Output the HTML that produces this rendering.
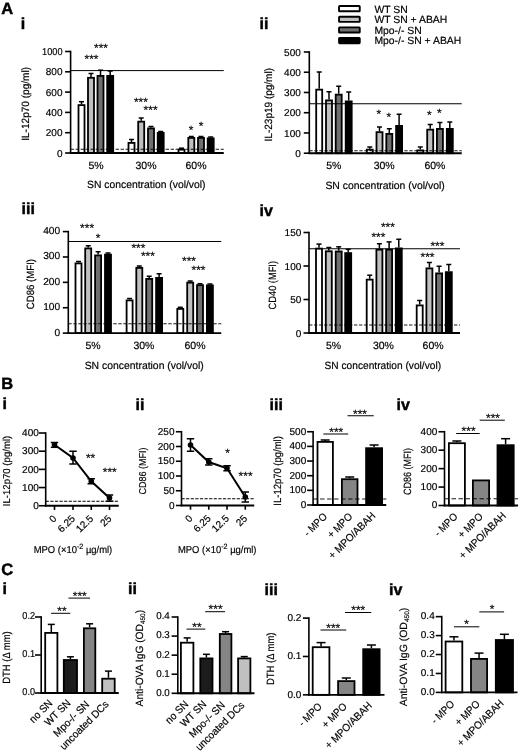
<!DOCTYPE html>
<html><head><meta charset="utf-8"><title>Figure</title>
<style>
html,body{margin:0;padding:0;background:#fff;}
body{width:520px;height:752px;overflow:hidden;font-family:"Liberation Sans",sans-serif;}
svg{display:block;filter:grayscale(1) blur(0.35px);}
svg text{font-family:"Liberation Sans",sans-serif;fill:#000;stroke:#000;stroke-width:0.18px;text-rendering:geometricPrecision;}
</style></head><body>
<svg width="520" height="752" viewBox="0 0 520 752">
<rect x="0" y="0" width="520" height="752" fill="#fff"/>
<text x="1.20" y="13.50" font-size="16.5" text-anchor="start" font-weight="bold" style="stroke-width:0.45px">A</text>
<text x="20.80" y="29.00" font-size="16" text-anchor="start" font-weight="bold" style="stroke-width:0.45px">i</text>
<text x="259.50" y="29.00" font-size="16" text-anchor="start" font-weight="bold" style="stroke-width:0.45px">ii</text>
<text x="21.50" y="214.00" font-size="16" text-anchor="start" font-weight="bold" style="stroke-width:0.45px">iii</text>
<text x="259.50" y="216.00" font-size="16" text-anchor="start" font-weight="bold" style="stroke-width:0.45px">iv</text>
<text x="1.20" y="388.80" font-size="16.5" text-anchor="start" font-weight="bold" style="stroke-width:0.45px">B</text>
<text x="2.50" y="409.00" font-size="16" text-anchor="start" font-weight="bold" style="stroke-width:0.45px">i</text>
<text x="135.50" y="409.50" font-size="16" text-anchor="start" font-weight="bold" style="stroke-width:0.45px">ii</text>
<text x="269.50" y="409.50" font-size="16" text-anchor="start" font-weight="bold" style="stroke-width:0.45px">iii</text>
<text x="396.50" y="409.50" font-size="16" text-anchor="start" font-weight="bold" style="stroke-width:0.45px">iv</text>
<text x="1.20" y="574.70" font-size="16.5" text-anchor="start" font-weight="bold" style="stroke-width:0.45px">C</text>
<text x="2.40" y="594.00" font-size="16" text-anchor="start" font-weight="bold" style="stroke-width:0.45px">i</text>
<text x="128.00" y="594.00" font-size="16" text-anchor="start" font-weight="bold" style="stroke-width:0.45px">ii</text>
<text x="264.50" y="595.00" font-size="16" text-anchor="start" font-weight="bold" style="stroke-width:0.45px">iii</text>
<text x="389.00" y="595.00" font-size="16" text-anchor="start" font-weight="bold" style="stroke-width:0.45px">iv</text>
<rect x="339.05" y="6.05" width="20.70" height="5.20" rx="0.6" fill="#ffffff" stroke="#000" stroke-width="1.9"/>
<text x="374.40" y="12.50" font-size="10.4" text-anchor="start" font-weight="normal" >WT SN</text>
<rect x="339.05" y="16.70" width="20.70" height="5.20" rx="0.6" fill="#c0c0c0" stroke="#000" stroke-width="1.9"/>
<text x="374.40" y="23.15" font-size="10.4" text-anchor="start" font-weight="normal" >WT SN + ABAH</text>
<rect x="339.05" y="27.35" width="20.70" height="5.20" rx="0.6" fill="#707070" stroke="#000" stroke-width="1.9"/>
<text x="374.40" y="33.80" font-size="10.4" text-anchor="start" font-weight="normal" >Mpo-/- SN</text>
<rect x="339.05" y="38.00" width="20.70" height="5.20" rx="0.6" fill="#000000" stroke="#000" stroke-width="1.9"/>
<text x="374.40" y="44.45" font-size="10.4" text-anchor="start" font-weight="normal" >Mpo-/- SN + ABAH</text>
<line x1="81.50" y1="104.20" x2="81.50" y2="101.70" stroke="#000" stroke-width="1.5"/>
<line x1="79.00" y1="101.70" x2="84.00" y2="101.70" stroke="#000" stroke-width="1.5"/>
<rect x="78.50" y="105.10" width="6.00" height="47.90" fill="#ffffff" stroke="#000" stroke-width="1.8"/>
<line x1="91.00" y1="76.90" x2="91.00" y2="73.50" stroke="#000" stroke-width="1.5"/>
<line x1="88.50" y1="73.50" x2="93.50" y2="73.50" stroke="#000" stroke-width="1.5"/>
<rect x="88.00" y="77.80" width="6.00" height="75.20" fill="#c0c0c0" stroke="#000" stroke-width="1.8"/>
<line x1="100.50" y1="75.00" x2="100.50" y2="70.20" stroke="#000" stroke-width="1.5"/>
<line x1="98.00" y1="70.20" x2="103.00" y2="70.20" stroke="#000" stroke-width="1.5"/>
<rect x="97.50" y="75.90" width="6.00" height="77.10" fill="#707070" stroke="#000" stroke-width="1.8"/>
<line x1="110.20" y1="75.00" x2="110.20" y2="71.00" stroke="#000" stroke-width="1.5"/>
<line x1="107.70" y1="71.00" x2="112.70" y2="71.00" stroke="#000" stroke-width="1.5"/>
<rect x="107.20" y="75.90" width="6.00" height="77.10" fill="#000000" stroke="#000" stroke-width="1.8"/>
<line x1="131.50" y1="142.00" x2="131.50" y2="139.50" stroke="#000" stroke-width="1.5"/>
<line x1="129.00" y1="139.50" x2="134.00" y2="139.50" stroke="#000" stroke-width="1.5"/>
<rect x="128.50" y="142.90" width="6.00" height="10.10" fill="#ffffff" stroke="#000" stroke-width="1.8"/>
<line x1="141.20" y1="120.75" x2="141.20" y2="118.00" stroke="#000" stroke-width="1.5"/>
<line x1="138.70" y1="118.00" x2="143.70" y2="118.00" stroke="#000" stroke-width="1.5"/>
<rect x="138.20" y="121.65" width="6.00" height="31.35" fill="#c0c0c0" stroke="#000" stroke-width="1.8"/>
<line x1="151.00" y1="127.50" x2="151.00" y2="126.50" stroke="#000" stroke-width="1.5"/>
<line x1="148.50" y1="126.50" x2="153.50" y2="126.50" stroke="#000" stroke-width="1.5"/>
<rect x="148.00" y="128.40" width="6.00" height="24.60" fill="#707070" stroke="#000" stroke-width="1.8"/>
<line x1="160.70" y1="132.00" x2="160.70" y2="131.50" stroke="#000" stroke-width="1.5"/>
<line x1="158.20" y1="131.50" x2="163.20" y2="131.50" stroke="#000" stroke-width="1.5"/>
<rect x="157.70" y="132.90" width="6.00" height="20.10" fill="#000000" stroke="#000" stroke-width="1.8"/>
<line x1="181.50" y1="148.75" x2="181.50" y2="148.20" stroke="#000" stroke-width="1.5"/>
<line x1="179.00" y1="148.20" x2="184.00" y2="148.20" stroke="#000" stroke-width="1.5"/>
<rect x="178.50" y="149.65" width="6.00" height="3.35" fill="#ffffff" stroke="#000" stroke-width="1.8"/>
<line x1="191.30" y1="137.00" x2="191.30" y2="136.50" stroke="#000" stroke-width="1.5"/>
<line x1="188.80" y1="136.50" x2="193.80" y2="136.50" stroke="#000" stroke-width="1.5"/>
<rect x="188.30" y="137.90" width="6.00" height="15.10" fill="#c0c0c0" stroke="#000" stroke-width="1.8"/>
<line x1="201.00" y1="137.00" x2="201.00" y2="136.50" stroke="#000" stroke-width="1.5"/>
<line x1="198.50" y1="136.50" x2="203.50" y2="136.50" stroke="#000" stroke-width="1.5"/>
<rect x="198.00" y="137.90" width="6.00" height="15.10" fill="#707070" stroke="#000" stroke-width="1.8"/>
<line x1="210.70" y1="137.50" x2="210.70" y2="137.00" stroke="#000" stroke-width="1.5"/>
<line x1="208.20" y1="137.00" x2="213.20" y2="137.00" stroke="#000" stroke-width="1.5"/>
<rect x="207.70" y="138.40" width="6.00" height="14.60" fill="#000000" stroke="#000" stroke-width="1.8"/>
<line x1="70.60" y1="70.60" x2="223.75" y2="70.60" stroke="#000" stroke-width="1.0"/>
<line x1="70.60" y1="149.25" x2="223.75" y2="149.25" stroke="#000" stroke-width="0.9" stroke-dasharray="3.4 1.6"/>
<line x1="70.60" y1="50.70" x2="70.60" y2="153.80" stroke="#000" stroke-width="1.6"/>
<line x1="65.10" y1="153.00" x2="70.60" y2="153.00" stroke="#000" stroke-width="1.6"/>
<text x="62.50" y="156.58" font-size="10" text-anchor="end" font-weight="normal" >0</text>
<line x1="65.10" y1="132.70" x2="70.60" y2="132.70" stroke="#000" stroke-width="1.6"/>
<text x="62.50" y="136.28" font-size="10" text-anchor="end" font-weight="normal" >200</text>
<line x1="65.10" y1="112.40" x2="70.60" y2="112.40" stroke="#000" stroke-width="1.6"/>
<text x="62.50" y="115.98" font-size="10" text-anchor="end" font-weight="normal" >400</text>
<line x1="65.10" y1="92.10" x2="70.60" y2="92.10" stroke="#000" stroke-width="1.6"/>
<text x="62.50" y="95.68" font-size="10" text-anchor="end" font-weight="normal" >600</text>
<line x1="65.10" y1="71.80" x2="70.60" y2="71.80" stroke="#000" stroke-width="1.6"/>
<text x="62.50" y="75.38" font-size="10" text-anchor="end" font-weight="normal" >800</text>
<line x1="65.10" y1="51.50" x2="70.60" y2="51.50" stroke="#000" stroke-width="1.6"/>
<text x="62.50" y="55.08" font-size="10" text-anchor="end" font-weight="normal" textLength="20.40" lengthAdjust="spacingAndGlyphs" >1000</text>
<line x1="69.80" y1="153.00" x2="223.75" y2="153.00" stroke="#000" stroke-width="1.9"/>
<text x="96.00" y="168.70" font-size="10.5" text-anchor="middle" font-weight="normal" >5%</text>
<text x="146.00" y="168.70" font-size="10.5" text-anchor="middle" font-weight="normal" >30%</text>
<text x="196.00" y="168.70" font-size="10.5" text-anchor="middle" font-weight="normal" >60%</text>
<text x="146.30" y="188.40" font-size="10.5" text-anchor="middle" font-weight="normal" textLength="118.50" lengthAdjust="spacingAndGlyphs" >SN concentration (vol/vol)</text>
<text x="0" y="0" transform="translate(29.00,103.90) rotate(-90)" font-size="10.5" text-anchor="middle" font-weight="normal" textLength="73.80" lengthAdjust="spacingAndGlyphs" >IL-12p70 (pg/ml)</text>
<text x="91.50" y="63.00" font-size="12" text-anchor="middle" font-weight="normal" >***</text>
<text x="101.00" y="51.50" font-size="12" text-anchor="middle" font-weight="normal" >***</text>
<text x="140.90" y="105.75" font-size="12" text-anchor="middle" font-weight="normal" >***</text>
<text x="150.60" y="114.25" font-size="12" text-anchor="middle" font-weight="normal" >***</text>
<text x="191.20" y="133.50" font-size="12" text-anchor="middle" font-weight="normal" >*</text>
<text x="201.10" y="129.75" font-size="12" text-anchor="middle" font-weight="normal" >*</text>
<line x1="319.20" y1="88.75" x2="319.20" y2="72.00" stroke="#000" stroke-width="1.5"/>
<line x1="316.70" y1="72.00" x2="321.70" y2="72.00" stroke="#000" stroke-width="1.5"/>
<rect x="316.20" y="89.65" width="6.00" height="63.55" fill="#ffffff" stroke="#000" stroke-width="1.8"/>
<line x1="329.00" y1="99.50" x2="329.00" y2="91.75" stroke="#000" stroke-width="1.5"/>
<line x1="326.50" y1="91.75" x2="331.50" y2="91.75" stroke="#000" stroke-width="1.5"/>
<rect x="326.00" y="100.40" width="6.00" height="52.80" fill="#c0c0c0" stroke="#000" stroke-width="1.8"/>
<line x1="338.70" y1="93.75" x2="338.70" y2="86.25" stroke="#000" stroke-width="1.5"/>
<line x1="336.20" y1="86.25" x2="341.20" y2="86.25" stroke="#000" stroke-width="1.5"/>
<rect x="335.70" y="94.65" width="6.00" height="58.55" fill="#707070" stroke="#000" stroke-width="1.8"/>
<line x1="348.70" y1="100.50" x2="348.70" y2="92.00" stroke="#000" stroke-width="1.5"/>
<line x1="346.20" y1="92.00" x2="351.20" y2="92.00" stroke="#000" stroke-width="1.5"/>
<rect x="345.70" y="101.40" width="6.00" height="51.80" fill="#000000" stroke="#000" stroke-width="1.8"/>
<line x1="369.80" y1="148.75" x2="369.80" y2="147.00" stroke="#000" stroke-width="1.5"/>
<line x1="367.30" y1="147.00" x2="372.30" y2="147.00" stroke="#000" stroke-width="1.5"/>
<rect x="366.80" y="149.65" width="6.00" height="3.55" fill="#ffffff" stroke="#000" stroke-width="1.8"/>
<line x1="379.50" y1="131.25" x2="379.50" y2="127.00" stroke="#000" stroke-width="1.5"/>
<line x1="377.00" y1="127.00" x2="382.00" y2="127.00" stroke="#000" stroke-width="1.5"/>
<rect x="376.50" y="132.15" width="6.00" height="21.05" fill="#c0c0c0" stroke="#000" stroke-width="1.8"/>
<line x1="389.30" y1="133.00" x2="389.30" y2="128.75" stroke="#000" stroke-width="1.5"/>
<line x1="386.80" y1="128.75" x2="391.80" y2="128.75" stroke="#000" stroke-width="1.5"/>
<rect x="386.30" y="133.90" width="6.00" height="19.30" fill="#707070" stroke="#000" stroke-width="1.8"/>
<line x1="399.10" y1="125.00" x2="399.10" y2="114.25" stroke="#000" stroke-width="1.5"/>
<line x1="396.60" y1="114.25" x2="401.60" y2="114.25" stroke="#000" stroke-width="1.5"/>
<rect x="396.10" y="125.90" width="6.00" height="27.30" fill="#000000" stroke="#000" stroke-width="1.8"/>
<line x1="420.30" y1="149.50" x2="420.30" y2="147.00" stroke="#000" stroke-width="1.5"/>
<line x1="417.80" y1="147.00" x2="422.80" y2="147.00" stroke="#000" stroke-width="1.5"/>
<rect x="417.30" y="150.40" width="6.00" height="2.80" fill="#ffffff" stroke="#000" stroke-width="1.8"/>
<line x1="430.20" y1="128.75" x2="430.20" y2="124.50" stroke="#000" stroke-width="1.5"/>
<line x1="427.70" y1="124.50" x2="432.70" y2="124.50" stroke="#000" stroke-width="1.5"/>
<rect x="427.20" y="129.65" width="6.00" height="23.55" fill="#c0c0c0" stroke="#000" stroke-width="1.8"/>
<line x1="439.90" y1="128.00" x2="439.90" y2="122.50" stroke="#000" stroke-width="1.5"/>
<line x1="437.40" y1="122.50" x2="442.40" y2="122.50" stroke="#000" stroke-width="1.5"/>
<rect x="436.90" y="128.90" width="6.00" height="24.30" fill="#707070" stroke="#000" stroke-width="1.8"/>
<line x1="449.80" y1="128.00" x2="449.80" y2="122.00" stroke="#000" stroke-width="1.5"/>
<line x1="447.30" y1="122.00" x2="452.30" y2="122.00" stroke="#000" stroke-width="1.5"/>
<rect x="446.80" y="128.90" width="6.00" height="24.30" fill="#000000" stroke="#000" stroke-width="1.8"/>
<line x1="309.30" y1="103.75" x2="461.75" y2="103.75" stroke="#000" stroke-width="1.0"/>
<line x1="309.30" y1="150.75" x2="461.75" y2="150.75" stroke="#000" stroke-width="0.9" stroke-dasharray="3.4 1.6"/>
<line x1="309.30" y1="51.20" x2="309.30" y2="154.00" stroke="#000" stroke-width="1.6"/>
<line x1="303.80" y1="153.20" x2="309.30" y2="153.20" stroke="#000" stroke-width="1.6"/>
<text x="300.80" y="156.78" font-size="10" text-anchor="end" font-weight="normal" >0</text>
<line x1="303.80" y1="132.96" x2="309.30" y2="132.96" stroke="#000" stroke-width="1.6"/>
<text x="300.80" y="136.54" font-size="10" text-anchor="end" font-weight="normal" >100</text>
<line x1="303.80" y1="112.72" x2="309.30" y2="112.72" stroke="#000" stroke-width="1.6"/>
<text x="300.80" y="116.30" font-size="10" text-anchor="end" font-weight="normal" >200</text>
<line x1="303.80" y1="92.48" x2="309.30" y2="92.48" stroke="#000" stroke-width="1.6"/>
<text x="300.80" y="96.06" font-size="10" text-anchor="end" font-weight="normal" >300</text>
<line x1="303.80" y1="72.24" x2="309.30" y2="72.24" stroke="#000" stroke-width="1.6"/>
<text x="300.80" y="75.82" font-size="10" text-anchor="end" font-weight="normal" >400</text>
<line x1="303.80" y1="52.00" x2="309.30" y2="52.00" stroke="#000" stroke-width="1.6"/>
<text x="300.80" y="55.58" font-size="10" text-anchor="end" font-weight="normal" >500</text>
<line x1="308.50" y1="153.20" x2="461.75" y2="153.20" stroke="#000" stroke-width="1.9"/>
<text x="333.80" y="168.70" font-size="10.5" text-anchor="middle" font-weight="normal" >5%</text>
<text x="384.20" y="168.70" font-size="10.5" text-anchor="middle" font-weight="normal" >30%</text>
<text x="434.90" y="168.70" font-size="10.5" text-anchor="middle" font-weight="normal" >60%</text>
<text x="385.10" y="188.90" font-size="10.5" text-anchor="middle" font-weight="normal" textLength="119.40" lengthAdjust="spacingAndGlyphs" >SN concentration (vol/vol)</text>
<text x="0" y="0" transform="translate(272.00,104.70) rotate(-90)" font-size="10.5" text-anchor="middle" font-weight="normal" textLength="73.40" lengthAdjust="spacingAndGlyphs" >IL-23p19 (pg/ml)</text>
<text x="378.75" y="117.75" font-size="12" text-anchor="middle" font-weight="normal" >*</text>
<text x="388.75" y="121.00" font-size="12" text-anchor="middle" font-weight="normal" >*</text>
<text x="429.25" y="119.00" font-size="12" text-anchor="middle" font-weight="normal" >*</text>
<text x="439.25" y="116.50" font-size="12" text-anchor="middle" font-weight="normal" >*</text>
<line x1="78.50" y1="262.50" x2="78.50" y2="261.50" stroke="#000" stroke-width="1.5"/>
<line x1="76.00" y1="261.50" x2="81.00" y2="261.50" stroke="#000" stroke-width="1.5"/>
<rect x="75.50" y="263.40" width="6.00" height="69.70" fill="#ffffff" stroke="#000" stroke-width="1.8"/>
<line x1="88.20" y1="247.50" x2="88.20" y2="245.75" stroke="#000" stroke-width="1.5"/>
<line x1="85.70" y1="245.75" x2="90.70" y2="245.75" stroke="#000" stroke-width="1.5"/>
<rect x="85.20" y="248.40" width="6.00" height="84.70" fill="#c0c0c0" stroke="#000" stroke-width="1.8"/>
<line x1="98.10" y1="254.50" x2="98.10" y2="251.75" stroke="#000" stroke-width="1.5"/>
<line x1="95.60" y1="251.75" x2="100.60" y2="251.75" stroke="#000" stroke-width="1.5"/>
<rect x="95.10" y="255.40" width="6.00" height="77.70" fill="#707070" stroke="#000" stroke-width="1.8"/>
<line x1="108.00" y1="253.75" x2="108.00" y2="253.00" stroke="#000" stroke-width="1.5"/>
<line x1="105.50" y1="253.00" x2="110.50" y2="253.00" stroke="#000" stroke-width="1.5"/>
<rect x="105.00" y="254.65" width="6.00" height="78.45" fill="#000000" stroke="#000" stroke-width="1.8"/>
<line x1="129.60" y1="299.50" x2="129.60" y2="298.50" stroke="#000" stroke-width="1.5"/>
<line x1="127.10" y1="298.50" x2="132.10" y2="298.50" stroke="#000" stroke-width="1.5"/>
<rect x="126.60" y="300.40" width="6.00" height="32.70" fill="#ffffff" stroke="#000" stroke-width="1.8"/>
<line x1="139.30" y1="267.00" x2="139.30" y2="266.00" stroke="#000" stroke-width="1.5"/>
<line x1="136.80" y1="266.00" x2="141.80" y2="266.00" stroke="#000" stroke-width="1.5"/>
<rect x="136.30" y="267.90" width="6.00" height="65.20" fill="#c0c0c0" stroke="#000" stroke-width="1.8"/>
<line x1="149.20" y1="278.00" x2="149.20" y2="276.25" stroke="#000" stroke-width="1.5"/>
<line x1="146.70" y1="276.25" x2="151.70" y2="276.25" stroke="#000" stroke-width="1.5"/>
<rect x="146.20" y="278.90" width="6.00" height="54.20" fill="#707070" stroke="#000" stroke-width="1.8"/>
<line x1="159.10" y1="277.00" x2="159.10" y2="273.75" stroke="#000" stroke-width="1.5"/>
<line x1="156.60" y1="273.75" x2="161.60" y2="273.75" stroke="#000" stroke-width="1.5"/>
<rect x="156.10" y="277.90" width="6.00" height="55.20" fill="#000000" stroke="#000" stroke-width="1.8"/>
<line x1="180.30" y1="308.00" x2="180.30" y2="307.30" stroke="#000" stroke-width="1.5"/>
<line x1="177.80" y1="307.30" x2="182.80" y2="307.30" stroke="#000" stroke-width="1.5"/>
<rect x="177.30" y="308.90" width="6.00" height="24.20" fill="#ffffff" stroke="#000" stroke-width="1.8"/>
<line x1="190.20" y1="281.75" x2="190.20" y2="281.00" stroke="#000" stroke-width="1.5"/>
<line x1="187.70" y1="281.00" x2="192.70" y2="281.00" stroke="#000" stroke-width="1.5"/>
<rect x="187.20" y="282.65" width="6.00" height="50.45" fill="#c0c0c0" stroke="#000" stroke-width="1.8"/>
<line x1="200.00" y1="284.25" x2="200.00" y2="283.70" stroke="#000" stroke-width="1.5"/>
<line x1="197.50" y1="283.70" x2="202.50" y2="283.70" stroke="#000" stroke-width="1.5"/>
<rect x="197.00" y="285.15" width="6.00" height="47.95" fill="#707070" stroke="#000" stroke-width="1.8"/>
<line x1="209.90" y1="284.50" x2="209.90" y2="284.00" stroke="#000" stroke-width="1.5"/>
<line x1="207.40" y1="284.00" x2="212.40" y2="284.00" stroke="#000" stroke-width="1.5"/>
<rect x="206.90" y="285.40" width="6.00" height="47.70" fill="#000000" stroke="#000" stroke-width="1.8"/>
<line x1="68.30" y1="241.50" x2="221.25" y2="241.50" stroke="#000" stroke-width="1.0"/>
<line x1="68.30" y1="323.75" x2="221.25" y2="323.75" stroke="#000" stroke-width="0.9" stroke-dasharray="3.4 1.6"/>
<line x1="68.30" y1="230.80" x2="68.30" y2="333.90" stroke="#000" stroke-width="1.6"/>
<line x1="62.80" y1="333.10" x2="68.30" y2="333.10" stroke="#000" stroke-width="1.6"/>
<text x="60.20" y="335.55" font-size="10.2" text-anchor="end" font-weight="normal" >0</text>
<line x1="62.80" y1="307.73" x2="68.30" y2="307.73" stroke="#000" stroke-width="1.6"/>
<text x="60.20" y="310.18" font-size="10.2" text-anchor="end" font-weight="normal" >100</text>
<line x1="62.80" y1="282.35" x2="68.30" y2="282.35" stroke="#000" stroke-width="1.6"/>
<text x="60.20" y="284.80" font-size="10.2" text-anchor="end" font-weight="normal" >200</text>
<line x1="62.80" y1="256.98" x2="68.30" y2="256.98" stroke="#000" stroke-width="1.6"/>
<text x="60.20" y="259.43" font-size="10.2" text-anchor="end" font-weight="normal" >300</text>
<line x1="62.80" y1="231.60" x2="68.30" y2="231.60" stroke="#000" stroke-width="1.6"/>
<text x="60.20" y="234.05" font-size="10.2" text-anchor="end" font-weight="normal" >400</text>
<line x1="67.50" y1="333.10" x2="221.25" y2="333.10" stroke="#000" stroke-width="1.9"/>
<text x="93.00" y="348.70" font-size="10.5" text-anchor="middle" font-weight="normal" >5%</text>
<text x="143.90" y="348.70" font-size="10.5" text-anchor="middle" font-weight="normal" >30%</text>
<text x="195.00" y="348.70" font-size="10.5" text-anchor="middle" font-weight="normal" >60%</text>
<text x="144.20" y="368.90" font-size="10.5" text-anchor="middle" font-weight="normal" textLength="119.00" lengthAdjust="spacingAndGlyphs" >SN concentration (vol/vol)</text>
<text x="0" y="0" transform="translate(34.30,284.10) rotate(-90)" font-size="10.5" text-anchor="middle" font-weight="normal" textLength="50.30" lengthAdjust="spacingAndGlyphs" >CD86 (MFI)</text>
<text x="87.10" y="231.75" font-size="12" text-anchor="middle" font-weight="normal" >***</text>
<text x="98.00" y="241.50" font-size="12" text-anchor="middle" font-weight="normal" >*</text>
<text x="138.40" y="251.75" font-size="12" text-anchor="middle" font-weight="normal" >***</text>
<text x="147.90" y="259.75" font-size="12" text-anchor="middle" font-weight="normal" >***</text>
<text x="189.00" y="264.75" font-size="12" text-anchor="middle" font-weight="normal" >***</text>
<text x="198.50" y="274.25" font-size="12" text-anchor="middle" font-weight="normal" >***</text>
<line x1="319.00" y1="247.70" x2="319.00" y2="244.10" stroke="#000" stroke-width="1.5"/>
<line x1="316.50" y1="244.10" x2="321.50" y2="244.10" stroke="#000" stroke-width="1.5"/>
<rect x="316.00" y="248.60" width="6.00" height="84.40" fill="#ffffff" stroke="#000" stroke-width="1.8"/>
<line x1="328.80" y1="250.40" x2="328.80" y2="247.50" stroke="#000" stroke-width="1.5"/>
<line x1="326.30" y1="247.50" x2="331.30" y2="247.50" stroke="#000" stroke-width="1.5"/>
<rect x="325.80" y="251.30" width="6.00" height="81.70" fill="#c0c0c0" stroke="#000" stroke-width="1.8"/>
<line x1="338.70" y1="250.60" x2="338.70" y2="246.80" stroke="#000" stroke-width="1.5"/>
<line x1="336.20" y1="246.80" x2="341.20" y2="246.80" stroke="#000" stroke-width="1.5"/>
<rect x="335.70" y="251.50" width="6.00" height="81.50" fill="#707070" stroke="#000" stroke-width="1.8"/>
<line x1="348.20" y1="252.20" x2="348.20" y2="249.30" stroke="#000" stroke-width="1.5"/>
<line x1="345.70" y1="249.30" x2="350.70" y2="249.30" stroke="#000" stroke-width="1.5"/>
<rect x="345.20" y="253.10" width="6.00" height="79.90" fill="#000000" stroke="#000" stroke-width="1.8"/>
<line x1="369.70" y1="278.75" x2="369.70" y2="275.20" stroke="#000" stroke-width="1.5"/>
<line x1="367.20" y1="275.20" x2="372.20" y2="275.20" stroke="#000" stroke-width="1.5"/>
<rect x="366.70" y="279.65" width="6.00" height="53.35" fill="#ffffff" stroke="#000" stroke-width="1.8"/>
<line x1="379.40" y1="248.75" x2="379.40" y2="243.75" stroke="#000" stroke-width="1.5"/>
<line x1="376.90" y1="243.75" x2="381.90" y2="243.75" stroke="#000" stroke-width="1.5"/>
<rect x="376.40" y="249.65" width="6.00" height="83.35" fill="#c0c0c0" stroke="#000" stroke-width="1.8"/>
<line x1="389.10" y1="248.75" x2="389.10" y2="241.90" stroke="#000" stroke-width="1.5"/>
<line x1="386.60" y1="241.90" x2="391.60" y2="241.90" stroke="#000" stroke-width="1.5"/>
<rect x="386.10" y="249.65" width="6.00" height="83.35" fill="#707070" stroke="#000" stroke-width="1.8"/>
<line x1="398.80" y1="247.50" x2="398.80" y2="239.25" stroke="#000" stroke-width="1.5"/>
<line x1="396.30" y1="239.25" x2="401.30" y2="239.25" stroke="#000" stroke-width="1.5"/>
<rect x="395.80" y="248.40" width="6.00" height="84.60" fill="#000000" stroke="#000" stroke-width="1.8"/>
<line x1="419.70" y1="304.50" x2="419.70" y2="300.50" stroke="#000" stroke-width="1.5"/>
<line x1="417.20" y1="300.50" x2="422.20" y2="300.50" stroke="#000" stroke-width="1.5"/>
<rect x="416.70" y="305.40" width="6.00" height="27.60" fill="#ffffff" stroke="#000" stroke-width="1.8"/>
<line x1="429.40" y1="267.50" x2="429.40" y2="262.50" stroke="#000" stroke-width="1.5"/>
<line x1="426.90" y1="262.50" x2="431.90" y2="262.50" stroke="#000" stroke-width="1.5"/>
<rect x="426.40" y="268.40" width="6.00" height="64.60" fill="#c0c0c0" stroke="#000" stroke-width="1.8"/>
<line x1="439.10" y1="272.50" x2="439.10" y2="266.25" stroke="#000" stroke-width="1.5"/>
<line x1="436.60" y1="266.25" x2="441.60" y2="266.25" stroke="#000" stroke-width="1.5"/>
<rect x="436.10" y="273.40" width="6.00" height="59.60" fill="#707070" stroke="#000" stroke-width="1.8"/>
<line x1="448.80" y1="271.25" x2="448.80" y2="264.50" stroke="#000" stroke-width="1.5"/>
<line x1="446.30" y1="264.50" x2="451.30" y2="264.50" stroke="#000" stroke-width="1.5"/>
<rect x="445.80" y="272.15" width="6.00" height="60.85" fill="#000000" stroke="#000" stroke-width="1.8"/>
<line x1="309.00" y1="248.75" x2="460.00" y2="248.75" stroke="#000" stroke-width="1.0"/>
<line x1="309.00" y1="325.00" x2="460.00" y2="325.00" stroke="#000" stroke-width="0.9" stroke-dasharray="3.4 1.6"/>
<line x1="309.00" y1="231.70" x2="309.00" y2="333.80" stroke="#000" stroke-width="1.6"/>
<line x1="303.50" y1="333.00" x2="309.00" y2="333.00" stroke="#000" stroke-width="1.6"/>
<text x="301.30" y="336.58" font-size="10" text-anchor="end" font-weight="normal" >0</text>
<line x1="303.50" y1="299.50" x2="309.00" y2="299.50" stroke="#000" stroke-width="1.6"/>
<text x="301.30" y="303.08" font-size="10" text-anchor="end" font-weight="normal" >50</text>
<line x1="303.50" y1="266.00" x2="309.00" y2="266.00" stroke="#000" stroke-width="1.6"/>
<text x="301.30" y="269.58" font-size="10" text-anchor="end" font-weight="normal" >100</text>
<line x1="303.50" y1="232.50" x2="309.00" y2="232.50" stroke="#000" stroke-width="1.6"/>
<text x="301.30" y="236.08" font-size="10" text-anchor="end" font-weight="normal" >150</text>
<line x1="308.20" y1="333.00" x2="460.00" y2="333.00" stroke="#000" stroke-width="1.9"/>
<text x="333.60" y="348.70" font-size="10.5" text-anchor="middle" font-weight="normal" >5%</text>
<text x="383.40" y="348.70" font-size="10.5" text-anchor="middle" font-weight="normal" >30%</text>
<text x="433.10" y="348.70" font-size="10.5" text-anchor="middle" font-weight="normal" >60%</text>
<text x="382.80" y="368.70" font-size="10.5" text-anchor="middle" font-weight="normal" textLength="116.50" lengthAdjust="spacingAndGlyphs" >SN concentration (vol/vol)</text>
<text x="0" y="0" transform="translate(275.60,285.20) rotate(-90)" font-size="10.5" text-anchor="middle" font-weight="normal" textLength="48.50" lengthAdjust="spacingAndGlyphs" >CD40 (MFI)</text>
<text x="378.40" y="240.70" font-size="12" text-anchor="middle" font-weight="normal" >***</text>
<text x="387.90" y="231.00" font-size="12" text-anchor="middle" font-weight="normal" >***</text>
<text x="437.40" y="250.25" font-size="12" text-anchor="middle" font-weight="normal" >***</text>
<text x="427.50" y="261.00" font-size="12" text-anchor="middle" font-weight="normal" >***</text>
<line x1="45.70" y1="501.25" x2="118.75" y2="501.25" stroke="#000" stroke-width="1.0" stroke-dasharray="3.2 1.4"/>
<line x1="45.70" y1="432.20" x2="45.70" y2="506.55" stroke="#000" stroke-width="1.6"/>
<line x1="38.90" y1="505.75" x2="45.70" y2="505.75" stroke="#000" stroke-width="1.6"/>
<text x="38.80" y="508.93" font-size="10" text-anchor="end" font-weight="normal" >0</text>
<line x1="38.90" y1="487.56" x2="45.70" y2="487.56" stroke="#000" stroke-width="1.6"/>
<text x="38.80" y="490.74" font-size="10" text-anchor="end" font-weight="normal" >100</text>
<line x1="38.90" y1="469.38" x2="45.70" y2="469.38" stroke="#000" stroke-width="1.6"/>
<text x="38.80" y="472.56" font-size="10" text-anchor="end" font-weight="normal" >200</text>
<line x1="38.90" y1="451.19" x2="45.70" y2="451.19" stroke="#000" stroke-width="1.6"/>
<text x="38.80" y="454.37" font-size="10" text-anchor="end" font-weight="normal" >300</text>
<line x1="38.90" y1="433.00" x2="45.70" y2="433.00" stroke="#000" stroke-width="1.6"/>
<text x="38.80" y="436.18" font-size="10" text-anchor="end" font-weight="normal" >400</text>
<line x1="44.90" y1="505.75" x2="118.75" y2="505.75" stroke="#000" stroke-width="1.9"/>
<line x1="54.50" y1="505.75" x2="54.50" y2="509.95" stroke="#000" stroke-width="1.6"/>
<line x1="73.00" y1="505.75" x2="73.00" y2="509.95" stroke="#000" stroke-width="1.6"/>
<line x1="91.25" y1="505.75" x2="91.25" y2="509.95" stroke="#000" stroke-width="1.6"/>
<line x1="109.50" y1="505.75" x2="109.50" y2="509.95" stroke="#000" stroke-width="1.6"/>
<line x1="54.50" y1="442.50" x2="54.50" y2="447.30" stroke="#000" stroke-width="1.5"/>
<line x1="50.80" y1="442.50" x2="58.20" y2="442.50" stroke="#000" stroke-width="1.5"/>
<line x1="50.80" y1="447.30" x2="58.20" y2="447.30" stroke="#000" stroke-width="1.5"/>
<line x1="73.00" y1="451.25" x2="73.00" y2="464.00" stroke="#000" stroke-width="1.5"/>
<line x1="69.30" y1="451.25" x2="76.70" y2="451.25" stroke="#000" stroke-width="1.5"/>
<line x1="69.30" y1="464.00" x2="76.70" y2="464.00" stroke="#000" stroke-width="1.5"/>
<line x1="91.25" y1="478.75" x2="91.25" y2="483.75" stroke="#000" stroke-width="1.5"/>
<line x1="87.55" y1="478.75" x2="94.95" y2="478.75" stroke="#000" stroke-width="1.5"/>
<line x1="87.55" y1="483.75" x2="94.95" y2="483.75" stroke="#000" stroke-width="1.5"/>
<line x1="109.50" y1="495.00" x2="109.50" y2="501.25" stroke="#000" stroke-width="1.5"/>
<line x1="105.80" y1="495.00" x2="113.20" y2="495.00" stroke="#000" stroke-width="1.5"/>
<line x1="105.80" y1="501.25" x2="113.20" y2="501.25" stroke="#000" stroke-width="1.5"/>
<path d="M54.50,444.70 L73.00,458.00 L91.25,481.25 L109.50,498.00" fill="none" stroke="#000" stroke-width="2.0"/>
<circle cx="54.50" cy="444.70" r="2.8" fill="#000"/>
<circle cx="73.00" cy="458.00" r="2.8" fill="#000"/>
<circle cx="91.25" cy="481.25" r="2.8" fill="#000"/>
<circle cx="109.50" cy="498.00" r="2.8" fill="#000"/>
<text x="0" y="0" transform="translate(57.10,519.25) rotate(-45)" font-size="10" text-anchor="end" font-weight="normal" >0</text>
<text x="0" y="0" transform="translate(75.60,519.25) rotate(-45)" font-size="10" text-anchor="end" font-weight="normal" >6.25</text>
<text x="0" y="0" transform="translate(93.85,519.25) rotate(-45)" font-size="10" text-anchor="end" font-weight="normal" >12.5</text>
<text x="0" y="0" transform="translate(112.10,519.25) rotate(-45)" font-size="10" text-anchor="end" font-weight="normal" >25</text>
<text x="0" y="0" transform="translate(10.00,471.00) rotate(-90)" font-size="10" text-anchor="middle" font-weight="normal" textLength="70.50" lengthAdjust="spacingAndGlyphs" >IL-12p70 (pg/ml)</text>
<text x="33.75" y="552.80" font-size="10" textLength="78.5" lengthAdjust="spacingAndGlyphs">MPO (×10<tspan font-size="7.6" dy="-4">-2</tspan><tspan dy="4"> µg/ml)</tspan></text>
<text x="90.60" y="462.25" font-size="12" text-anchor="middle" font-weight="normal" >**</text>
<text x="109.75" y="476.00" font-size="12" text-anchor="middle" font-weight="normal" >***</text>
<line x1="181.50" y1="498.75" x2="254.25" y2="498.75" stroke="#000" stroke-width="1.0" stroke-dasharray="3.2 1.4"/>
<line x1="181.50" y1="430.95" x2="181.50" y2="506.30" stroke="#000" stroke-width="1.6"/>
<line x1="175.90" y1="505.50" x2="181.50" y2="505.50" stroke="#000" stroke-width="1.6"/>
<text x="174.50" y="508.68" font-size="10" text-anchor="end" font-weight="normal" >0</text>
<line x1="175.90" y1="490.75" x2="181.50" y2="490.75" stroke="#000" stroke-width="1.6"/>
<text x="174.50" y="493.93" font-size="10" text-anchor="end" font-weight="normal" >50</text>
<line x1="175.90" y1="476.00" x2="181.50" y2="476.00" stroke="#000" stroke-width="1.6"/>
<text x="174.50" y="479.18" font-size="10" text-anchor="end" font-weight="normal" >100</text>
<line x1="175.90" y1="461.25" x2="181.50" y2="461.25" stroke="#000" stroke-width="1.6"/>
<text x="174.50" y="464.43" font-size="10" text-anchor="end" font-weight="normal" >150</text>
<line x1="175.90" y1="446.50" x2="181.50" y2="446.50" stroke="#000" stroke-width="1.6"/>
<text x="174.50" y="449.68" font-size="10" text-anchor="end" font-weight="normal" >200</text>
<line x1="175.90" y1="431.75" x2="181.50" y2="431.75" stroke="#000" stroke-width="1.6"/>
<text x="174.50" y="434.93" font-size="10" text-anchor="end" font-weight="normal" >250</text>
<line x1="180.70" y1="505.50" x2="254.25" y2="505.50" stroke="#000" stroke-width="1.9"/>
<line x1="190.50" y1="505.50" x2="190.50" y2="509.70" stroke="#000" stroke-width="1.6"/>
<line x1="208.75" y1="505.50" x2="208.75" y2="509.70" stroke="#000" stroke-width="1.6"/>
<line x1="227.00" y1="505.50" x2="227.00" y2="509.70" stroke="#000" stroke-width="1.6"/>
<line x1="245.30" y1="505.50" x2="245.30" y2="509.70" stroke="#000" stroke-width="1.6"/>
<line x1="190.50" y1="438.75" x2="190.50" y2="451.25" stroke="#000" stroke-width="1.5"/>
<line x1="186.80" y1="438.75" x2="194.20" y2="438.75" stroke="#000" stroke-width="1.5"/>
<line x1="186.80" y1="451.25" x2="194.20" y2="451.25" stroke="#000" stroke-width="1.5"/>
<line x1="208.75" y1="458.75" x2="208.75" y2="465.00" stroke="#000" stroke-width="1.5"/>
<line x1="205.05" y1="458.75" x2="212.45" y2="458.75" stroke="#000" stroke-width="1.5"/>
<line x1="205.05" y1="465.00" x2="212.45" y2="465.00" stroke="#000" stroke-width="1.5"/>
<line x1="227.00" y1="465.75" x2="227.00" y2="470.75" stroke="#000" stroke-width="1.5"/>
<line x1="223.30" y1="465.75" x2="230.70" y2="465.75" stroke="#000" stroke-width="1.5"/>
<line x1="223.30" y1="470.75" x2="230.70" y2="470.75" stroke="#000" stroke-width="1.5"/>
<line x1="245.30" y1="492.00" x2="245.30" y2="502.00" stroke="#000" stroke-width="1.5"/>
<line x1="241.60" y1="492.00" x2="249.00" y2="492.00" stroke="#000" stroke-width="1.5"/>
<line x1="241.60" y1="502.00" x2="249.00" y2="502.00" stroke="#000" stroke-width="1.5"/>
<path d="M190.50,445.00 L208.75,462.00 L227.00,468.25 L245.30,497.00" fill="none" stroke="#000" stroke-width="2.0"/>
<circle cx="190.50" cy="445.00" r="2.8" fill="#000"/>
<circle cx="208.75" cy="462.00" r="2.8" fill="#000"/>
<circle cx="227.00" cy="468.25" r="2.8" fill="#000"/>
<circle cx="245.30" cy="497.00" r="2.8" fill="#000"/>
<text x="0" y="0" transform="translate(193.10,519.00) rotate(-45)" font-size="10" text-anchor="end" font-weight="normal" >0</text>
<text x="0" y="0" transform="translate(211.35,519.00) rotate(-45)" font-size="10" text-anchor="end" font-weight="normal" >6.25</text>
<text x="0" y="0" transform="translate(229.60,519.00) rotate(-45)" font-size="10" text-anchor="end" font-weight="normal" >12.5</text>
<text x="0" y="0" transform="translate(247.90,519.00) rotate(-45)" font-size="10" text-anchor="end" font-weight="normal" >25</text>
<text x="0" y="0" transform="translate(146.00,470.90) rotate(-90)" font-size="10" text-anchor="middle" font-weight="normal" textLength="47.00" lengthAdjust="spacingAndGlyphs" >CD86 (MFI)</text>
<text x="178.00" y="553.30" font-size="10" textLength="78.5" lengthAdjust="spacingAndGlyphs">MPO (×10<tspan font-size="7.6" dy="-4">-2</tspan><tspan dy="4"> µg/ml)</tspan></text>
<text x="227.50" y="457.25" font-size="12" text-anchor="middle" font-weight="normal" >*</text>
<text x="245.60" y="479.75" font-size="12" text-anchor="middle" font-weight="normal" >***</text>
<line x1="325.20" y1="441.00" x2="325.20" y2="440.00" stroke="#000" stroke-width="1.5"/>
<line x1="320.70" y1="440.00" x2="329.70" y2="440.00" stroke="#000" stroke-width="1.5"/>
<rect x="317.50" y="441.90" width="15.40" height="63.10" fill="#ffffff" stroke="#000" stroke-width="1.8"/>
<line x1="349.70" y1="478.30" x2="349.70" y2="477.00" stroke="#000" stroke-width="1.5"/>
<line x1="345.20" y1="477.00" x2="354.20" y2="477.00" stroke="#000" stroke-width="1.5"/>
<rect x="341.90" y="479.20" width="15.60" height="25.80" fill="#858585" stroke="#000" stroke-width="1.8"/>
<line x1="374.10" y1="447.30" x2="374.10" y2="445.00" stroke="#000" stroke-width="1.5"/>
<line x1="369.60" y1="445.00" x2="378.60" y2="445.00" stroke="#000" stroke-width="1.5"/>
<rect x="366.10" y="448.20" width="16.00" height="56.80" fill="#000000" stroke="#000" stroke-width="1.8"/>
<line x1="313.10" y1="499.00" x2="386.25" y2="499.00" stroke="#000" stroke-width="0.9" stroke-dasharray="4.5 2.5"/>
<line x1="313.10" y1="430.95" x2="313.10" y2="505.80" stroke="#000" stroke-width="1.6"/>
<line x1="307.10" y1="505.00" x2="313.10" y2="505.00" stroke="#000" stroke-width="1.6"/>
<text x="306.25" y="507.98" font-size="10" text-anchor="end" font-weight="normal" >0</text>
<line x1="307.10" y1="490.35" x2="313.10" y2="490.35" stroke="#000" stroke-width="1.6"/>
<text x="306.25" y="493.33" font-size="10" text-anchor="end" font-weight="normal" >100</text>
<line x1="307.10" y1="475.70" x2="313.10" y2="475.70" stroke="#000" stroke-width="1.6"/>
<text x="306.25" y="478.68" font-size="10" text-anchor="end" font-weight="normal" >200</text>
<line x1="307.10" y1="461.05" x2="313.10" y2="461.05" stroke="#000" stroke-width="1.6"/>
<text x="306.25" y="464.03" font-size="10" text-anchor="end" font-weight="normal" >300</text>
<line x1="307.10" y1="446.40" x2="313.10" y2="446.40" stroke="#000" stroke-width="1.6"/>
<text x="306.25" y="449.38" font-size="10" text-anchor="end" font-weight="normal" >400</text>
<line x1="307.10" y1="431.75" x2="313.10" y2="431.75" stroke="#000" stroke-width="1.6"/>
<text x="306.25" y="434.73" font-size="10" text-anchor="end" font-weight="normal" >500</text>
<line x1="312.30" y1="505.00" x2="386.25" y2="505.00" stroke="#000" stroke-width="1.9"/>
<text x="0" y="0" transform="translate(280.50,470.90) rotate(-90)" font-size="10.5" text-anchor="middle" font-weight="normal" textLength="69.50" lengthAdjust="spacingAndGlyphs" >IL-12p70 (pg/ml)</text>
<line x1="323.30" y1="434.00" x2="348.20" y2="434.00" stroke="#000" stroke-width="1.0"/>
<text x="336.25" y="435.50" font-size="12" text-anchor="middle" font-weight="normal" >***</text>
<line x1="347.50" y1="415.75" x2="373.75" y2="415.75" stroke="#000" stroke-width="1.0"/>
<text x="360.00" y="418.00" font-size="12" text-anchor="middle" font-weight="normal" >***</text>
<text x="0" y="0" transform="translate(327.70,517.30) rotate(-45)" font-size="10.5" text-anchor="end" font-weight="normal" textLength="27.90" lengthAdjust="spacingAndGlyphs" >- MPO</text>
<text x="0" y="0" transform="translate(353.00,517.30) rotate(-45)" font-size="10.5" text-anchor="end" font-weight="normal" textLength="30.40" lengthAdjust="spacingAndGlyphs" >+ MPO</text>
<text x="0" y="0" transform="translate(376.00,516.30) rotate(-45)" font-size="10.5" text-anchor="end" font-weight="normal" textLength="61.00" lengthAdjust="spacingAndGlyphs" >+ MPO/ABAH</text>
<line x1="456.90" y1="442.30" x2="456.90" y2="441.00" stroke="#000" stroke-width="1.5"/>
<line x1="452.40" y1="441.00" x2="461.40" y2="441.00" stroke="#000" stroke-width="1.5"/>
<rect x="448.90" y="443.20" width="16.00" height="62.30" fill="#ffffff" stroke="#000" stroke-width="1.8"/>
<rect x="472.90" y="480.40" width="16.20" height="25.10" fill="#858585" stroke="#000" stroke-width="1.8"/>
<line x1="505.60" y1="444.30" x2="505.60" y2="438.70" stroke="#000" stroke-width="1.5"/>
<line x1="501.10" y1="438.70" x2="510.10" y2="438.70" stroke="#000" stroke-width="1.5"/>
<rect x="497.50" y="445.20" width="16.20" height="60.30" fill="#000000" stroke="#000" stroke-width="1.8"/>
<line x1="444.50" y1="498.75" x2="518.00" y2="498.75" stroke="#000" stroke-width="0.9" stroke-dasharray="4.5 2.5"/>
<line x1="444.50" y1="430.95" x2="444.50" y2="506.30" stroke="#000" stroke-width="1.6"/>
<line x1="438.50" y1="505.50" x2="444.50" y2="505.50" stroke="#000" stroke-width="1.6"/>
<text x="437.30" y="508.48" font-size="10" text-anchor="end" font-weight="normal" >0</text>
<line x1="438.50" y1="487.06" x2="444.50" y2="487.06" stroke="#000" stroke-width="1.6"/>
<text x="437.30" y="490.04" font-size="10" text-anchor="end" font-weight="normal" >100</text>
<line x1="438.50" y1="468.62" x2="444.50" y2="468.62" stroke="#000" stroke-width="1.6"/>
<text x="437.30" y="471.60" font-size="10" text-anchor="end" font-weight="normal" >200</text>
<line x1="438.50" y1="450.19" x2="444.50" y2="450.19" stroke="#000" stroke-width="1.6"/>
<text x="437.30" y="453.17" font-size="10" text-anchor="end" font-weight="normal" >300</text>
<line x1="438.50" y1="431.75" x2="444.50" y2="431.75" stroke="#000" stroke-width="1.6"/>
<text x="437.30" y="434.73" font-size="10" text-anchor="end" font-weight="normal" >400</text>
<line x1="443.70" y1="505.50" x2="518.00" y2="505.50" stroke="#000" stroke-width="1.9"/>
<text x="0" y="0" transform="translate(410.50,471.40) rotate(-90)" font-size="10.5" text-anchor="middle" font-weight="normal" textLength="47.00" lengthAdjust="spacingAndGlyphs" >CD86 (MFI)</text>
<line x1="456.20" y1="433.50" x2="479.70" y2="433.50" stroke="#000" stroke-width="1.0"/>
<text x="468.60" y="435.00" font-size="12" text-anchor="middle" font-weight="normal" >***</text>
<line x1="479.70" y1="420.20" x2="504.80" y2="420.20" stroke="#000" stroke-width="1.0"/>
<text x="493.00" y="421.50" font-size="12" text-anchor="middle" font-weight="normal" >***</text>
<text x="0" y="0" transform="translate(458.20,517.30) rotate(-45)" font-size="10.5" text-anchor="end" font-weight="normal" textLength="27.90" lengthAdjust="spacingAndGlyphs" >- MPO</text>
<text x="0" y="0" transform="translate(483.50,517.30) rotate(-45)" font-size="10.5" text-anchor="end" font-weight="normal" textLength="30.40" lengthAdjust="spacingAndGlyphs" >+ MPO</text>
<text x="0" y="0" transform="translate(506.50,516.30) rotate(-45)" font-size="10.5" text-anchor="end" font-weight="normal" textLength="61.00" lengthAdjust="spacingAndGlyphs" >+ MPO/ABAH</text>
<line x1="321.05" y1="646.30" x2="321.05" y2="642.60" stroke="#000" stroke-width="1.5"/>
<line x1="316.55" y1="642.60" x2="325.55" y2="642.60" stroke="#000" stroke-width="1.5"/>
<rect x="312.70" y="647.20" width="16.70" height="47.65" fill="#ffffff" stroke="#000" stroke-width="1.8"/>
<line x1="346.30" y1="680.20" x2="346.30" y2="678.00" stroke="#000" stroke-width="1.5"/>
<line x1="341.80" y1="678.00" x2="350.80" y2="678.00" stroke="#000" stroke-width="1.5"/>
<rect x="338.10" y="681.10" width="16.40" height="13.75" fill="#858585" stroke="#000" stroke-width="1.8"/>
<line x1="371.40" y1="648.30" x2="371.40" y2="645.00" stroke="#000" stroke-width="1.5"/>
<line x1="366.90" y1="645.00" x2="375.90" y2="645.00" stroke="#000" stroke-width="1.5"/>
<rect x="363.20" y="649.20" width="16.40" height="45.65" fill="#000000" stroke="#000" stroke-width="1.8"/>
<line x1="308.90" y1="617.30" x2="308.90" y2="695.65" stroke="#000" stroke-width="1.6"/>
<line x1="302.90" y1="694.85" x2="308.90" y2="694.85" stroke="#000" stroke-width="1.6"/>
<text x="301.30" y="697.63" font-size="10" text-anchor="end" font-weight="normal" textLength="13.90" lengthAdjust="spacingAndGlyphs" >0.0</text>
<line x1="302.90" y1="656.48" x2="308.90" y2="656.48" stroke="#000" stroke-width="1.6"/>
<text x="301.30" y="659.26" font-size="10" text-anchor="end" font-weight="normal" textLength="13.90" lengthAdjust="spacingAndGlyphs" >0.1</text>
<line x1="302.90" y1="618.10" x2="308.90" y2="618.10" stroke="#000" stroke-width="1.6"/>
<text x="301.30" y="620.88" font-size="10" text-anchor="end" font-weight="normal" textLength="13.90" lengthAdjust="spacingAndGlyphs" >0.2</text>
<line x1="308.10" y1="694.85" x2="384.50" y2="694.85" stroke="#000" stroke-width="1.9"/>
<text x="0" y="0" transform="translate(274.00,658.75) rotate(-90)" font-size="10.5" text-anchor="middle" font-weight="normal" textLength="52.50" lengthAdjust="spacingAndGlyphs" >DTH (Δ mm)</text>
<line x1="320.50" y1="630.00" x2="346.25" y2="630.00" stroke="#000" stroke-width="1.0"/>
<text x="333.25" y="631.50" font-size="12" text-anchor="middle" font-weight="normal" >***</text>
<line x1="345.00" y1="612.50" x2="371.25" y2="612.50" stroke="#000" stroke-width="1.0"/>
<text x="358.25" y="614.00" font-size="12" text-anchor="middle" font-weight="normal" >***</text>
<text x="0" y="0" transform="translate(322.50,707.20) rotate(-45)" font-size="10.5" text-anchor="end" font-weight="normal" textLength="27.90" lengthAdjust="spacingAndGlyphs" >- MPO</text>
<text x="0" y="0" transform="translate(347.50,707.20) rotate(-45)" font-size="10.5" text-anchor="end" font-weight="normal" textLength="30.40" lengthAdjust="spacingAndGlyphs" >+ MPO</text>
<text x="0" y="0" transform="translate(372.50,706.20) rotate(-45)" font-size="10.5" text-anchor="end" font-weight="normal" textLength="61.00" lengthAdjust="spacingAndGlyphs" >+ MPO/ABAH</text>
<line x1="453.95" y1="640.60" x2="453.95" y2="636.80" stroke="#000" stroke-width="1.5"/>
<line x1="449.45" y1="636.80" x2="458.45" y2="636.80" stroke="#000" stroke-width="1.5"/>
<rect x="445.60" y="641.50" width="16.70" height="50.90" fill="#ffffff" stroke="#000" stroke-width="1.8"/>
<line x1="479.05" y1="658.00" x2="479.05" y2="653.10" stroke="#000" stroke-width="1.5"/>
<line x1="474.55" y1="653.10" x2="483.55" y2="653.10" stroke="#000" stroke-width="1.5"/>
<rect x="471.00" y="658.90" width="16.10" height="33.50" fill="#858585" stroke="#000" stroke-width="1.8"/>
<line x1="504.40" y1="639.10" x2="504.40" y2="634.30" stroke="#000" stroke-width="1.5"/>
<line x1="499.90" y1="634.30" x2="508.90" y2="634.30" stroke="#000" stroke-width="1.5"/>
<rect x="495.80" y="640.00" width="17.20" height="52.40" fill="#000000" stroke="#000" stroke-width="1.8"/>
<line x1="441.75" y1="615.85" x2="441.75" y2="693.20" stroke="#000" stroke-width="1.6"/>
<line x1="435.75" y1="692.40" x2="441.75" y2="692.40" stroke="#000" stroke-width="1.6"/>
<text x="434.70" y="695.08" font-size="10" text-anchor="end" font-weight="normal" textLength="13.90" lengthAdjust="spacingAndGlyphs" >0.0</text>
<line x1="435.75" y1="673.46" x2="441.75" y2="673.46" stroke="#000" stroke-width="1.6"/>
<text x="434.70" y="676.14" font-size="10" text-anchor="end" font-weight="normal" textLength="13.90" lengthAdjust="spacingAndGlyphs" >0.1</text>
<line x1="435.75" y1="654.52" x2="441.75" y2="654.52" stroke="#000" stroke-width="1.6"/>
<text x="434.70" y="657.21" font-size="10" text-anchor="end" font-weight="normal" textLength="13.90" lengthAdjust="spacingAndGlyphs" >0.2</text>
<line x1="435.75" y1="635.59" x2="441.75" y2="635.59" stroke="#000" stroke-width="1.6"/>
<text x="434.70" y="638.27" font-size="10" text-anchor="end" font-weight="normal" textLength="13.90" lengthAdjust="spacingAndGlyphs" >0.3</text>
<line x1="435.75" y1="616.65" x2="441.75" y2="616.65" stroke="#000" stroke-width="1.6"/>
<text x="434.70" y="619.33" font-size="10" text-anchor="end" font-weight="normal" textLength="13.90" lengthAdjust="spacingAndGlyphs" >0.4</text>
<line x1="440.95" y1="692.40" x2="517.50" y2="692.40" stroke="#000" stroke-width="1.9"/>
<text transform="translate(407.00,657.00) rotate(-90)" font-size="10.5" text-anchor="middle" textLength="98.5" lengthAdjust="spacingAndGlyphs">Anti-OVA IgG (OD<tspan font-size="6.5" dy="2">450</tspan><tspan dy="-2">)</tspan></text>
<line x1="454.00" y1="626.80" x2="479.30" y2="626.80" stroke="#000" stroke-width="1.0"/>
<text x="466.60" y="627.80" font-size="12" text-anchor="middle" font-weight="normal" >*</text>
<line x1="479.30" y1="611.90" x2="504.10" y2="611.90" stroke="#000" stroke-width="1.0"/>
<text x="492.00" y="613.20" font-size="12" text-anchor="middle" font-weight="normal" >*</text>
<text x="0" y="0" transform="translate(455.00,704.80) rotate(-45)" font-size="10.5" text-anchor="end" font-weight="normal" textLength="27.90" lengthAdjust="spacingAndGlyphs" >- MPO</text>
<text x="0" y="0" transform="translate(480.50,704.80) rotate(-45)" font-size="10.5" text-anchor="end" font-weight="normal" textLength="30.40" lengthAdjust="spacingAndGlyphs" >+ MPO</text>
<text x="0" y="0" transform="translate(504.30,703.80) rotate(-45)" font-size="10.5" text-anchor="end" font-weight="normal" textLength="61.00" lengthAdjust="spacingAndGlyphs" >+ MPO/ABAH</text>
<line x1="51.30" y1="632.00" x2="51.30" y2="624.40" stroke="#000" stroke-width="1.5"/>
<line x1="47.80" y1="624.40" x2="54.80" y2="624.40" stroke="#000" stroke-width="1.5"/>
<rect x="45.20" y="632.90" width="12.20" height="60.10" fill="#ffffff" stroke="#000" stroke-width="1.8"/>
<line x1="70.40" y1="659.10" x2="70.40" y2="656.80" stroke="#000" stroke-width="1.5"/>
<line x1="66.90" y1="656.80" x2="73.90" y2="656.80" stroke="#000" stroke-width="1.5"/>
<rect x="63.80" y="660.00" width="13.20" height="33.00" fill="#1c1c1c" stroke="#000" stroke-width="1.8"/>
<line x1="89.60" y1="627.40" x2="89.60" y2="623.80" stroke="#000" stroke-width="1.5"/>
<line x1="86.10" y1="623.80" x2="93.10" y2="623.80" stroke="#000" stroke-width="1.5"/>
<rect x="83.90" y="628.30" width="11.40" height="64.70" fill="#858585" stroke="#000" stroke-width="1.8"/>
<line x1="108.45" y1="677.80" x2="108.45" y2="671.10" stroke="#000" stroke-width="1.5"/>
<line x1="104.95" y1="671.10" x2="111.95" y2="671.10" stroke="#000" stroke-width="1.5"/>
<rect x="102.20" y="678.70" width="12.50" height="14.30" fill="#c0c0c0" stroke="#000" stroke-width="1.8"/>
<line x1="41.20" y1="616.20" x2="41.20" y2="693.80" stroke="#000" stroke-width="1.6"/>
<line x1="35.00" y1="693.00" x2="41.20" y2="693.00" stroke="#000" stroke-width="1.6"/>
<text x="35.00" y="695.28" font-size="10" text-anchor="end" font-weight="normal" textLength="12.70" lengthAdjust="spacingAndGlyphs" >0.0</text>
<line x1="35.00" y1="655.00" x2="41.20" y2="655.00" stroke="#000" stroke-width="1.6"/>
<text x="35.00" y="657.28" font-size="10" text-anchor="end" font-weight="normal" textLength="12.70" lengthAdjust="spacingAndGlyphs" >0.1</text>
<line x1="35.00" y1="617.00" x2="41.20" y2="617.00" stroke="#000" stroke-width="1.6"/>
<text x="35.00" y="619.28" font-size="10" text-anchor="end" font-weight="normal" textLength="12.70" lengthAdjust="spacingAndGlyphs" >0.2</text>
<line x1="40.40" y1="693.00" x2="118.75" y2="693.00" stroke="#000" stroke-width="1.9"/>
<text x="0" y="0" transform="translate(10.00,657.50) rotate(-90)" font-size="10.5" text-anchor="middle" font-weight="normal" textLength="52.50" lengthAdjust="spacingAndGlyphs" >DTH (Δ mm)</text>
<line x1="51.10" y1="613.30" x2="70.30" y2="613.30" stroke="#000" stroke-width="1.0"/>
<text x="61.90" y="615.00" font-size="12" text-anchor="middle" font-weight="normal" >**</text>
<line x1="68.50" y1="598.10" x2="90.00" y2="598.10" stroke="#000" stroke-width="1.0"/>
<text x="79.80" y="599.50" font-size="12" text-anchor="middle" font-weight="normal" >***</text>
<text x="0" y="0" transform="translate(53.20,703.80) rotate(-45)" font-size="10.5" text-anchor="end" font-weight="normal" textLength="27.70" lengthAdjust="spacingAndGlyphs" >no SN</text>
<text x="0" y="0" transform="translate(71.30,703.80) rotate(-45)" font-size="10.5" text-anchor="end" font-weight="normal" textLength="32.00" lengthAdjust="spacingAndGlyphs" >WT SN</text>
<text x="0" y="0" transform="translate(90.00,705.00) rotate(-45)" font-size="10.5" text-anchor="end" font-weight="normal" textLength="45.80" lengthAdjust="spacingAndGlyphs" >Mpo-/- SN</text>
<text x="0" y="0" transform="translate(109.30,705.00) rotate(-45)" font-size="10.5" text-anchor="end" font-weight="normal" textLength="64.20" lengthAdjust="spacingAndGlyphs" >uncoated DCs</text>
<line x1="187.15" y1="641.80" x2="187.15" y2="637.90" stroke="#000" stroke-width="1.5"/>
<line x1="183.65" y1="637.90" x2="190.65" y2="637.90" stroke="#000" stroke-width="1.5"/>
<rect x="180.90" y="642.70" width="12.50" height="50.60" fill="#ffffff" stroke="#000" stroke-width="1.8"/>
<line x1="206.40" y1="657.50" x2="206.40" y2="654.30" stroke="#000" stroke-width="1.5"/>
<line x1="202.90" y1="654.30" x2="209.90" y2="654.30" stroke="#000" stroke-width="1.5"/>
<rect x="200.30" y="658.40" width="12.20" height="34.90" fill="#1c1c1c" stroke="#000" stroke-width="1.8"/>
<line x1="225.60" y1="633.10" x2="225.60" y2="631.70" stroke="#000" stroke-width="1.5"/>
<line x1="222.10" y1="631.70" x2="229.10" y2="631.70" stroke="#000" stroke-width="1.5"/>
<rect x="219.80" y="634.00" width="11.60" height="59.30" fill="#858585" stroke="#000" stroke-width="1.8"/>
<line x1="244.25" y1="657.50" x2="244.25" y2="656.60" stroke="#000" stroke-width="1.5"/>
<line x1="240.75" y1="656.60" x2="247.75" y2="656.60" stroke="#000" stroke-width="1.5"/>
<rect x="238.10" y="658.40" width="12.30" height="34.90" fill="#c0c0c0" stroke="#000" stroke-width="1.8"/>
<line x1="177.80" y1="616.20" x2="177.80" y2="694.10" stroke="#000" stroke-width="1.6"/>
<line x1="171.60" y1="693.30" x2="177.80" y2="693.30" stroke="#000" stroke-width="1.6"/>
<text x="169.80" y="695.68" font-size="10" text-anchor="end" font-weight="normal" textLength="13.60" lengthAdjust="spacingAndGlyphs" >0.0</text>
<line x1="171.60" y1="674.22" x2="177.80" y2="674.22" stroke="#000" stroke-width="1.6"/>
<text x="169.80" y="676.60" font-size="10" text-anchor="end" font-weight="normal" textLength="13.60" lengthAdjust="spacingAndGlyphs" >0.1</text>
<line x1="171.60" y1="655.15" x2="177.80" y2="655.15" stroke="#000" stroke-width="1.6"/>
<text x="169.80" y="657.53" font-size="10" text-anchor="end" font-weight="normal" textLength="13.60" lengthAdjust="spacingAndGlyphs" >0.2</text>
<line x1="171.60" y1="636.08" x2="177.80" y2="636.08" stroke="#000" stroke-width="1.6"/>
<text x="169.80" y="638.46" font-size="10" text-anchor="end" font-weight="normal" textLength="13.60" lengthAdjust="spacingAndGlyphs" >0.3</text>
<line x1="171.60" y1="617.00" x2="177.80" y2="617.00" stroke="#000" stroke-width="1.6"/>
<text x="169.80" y="619.38" font-size="10" text-anchor="end" font-weight="normal" textLength="13.60" lengthAdjust="spacingAndGlyphs" >0.4</text>
<line x1="177.00" y1="693.30" x2="254.50" y2="693.30" stroke="#000" stroke-width="1.9"/>
<text transform="translate(143.30,658.20) rotate(-90)" font-size="10.5" text-anchor="middle" textLength="96.5" lengthAdjust="spacingAndGlyphs">Anti-OVA IgG (OD<tspan font-size="6.5" dy="2">450</tspan><tspan dy="-2">)</tspan></text>
<line x1="186.50" y1="629.10" x2="205.30" y2="629.10" stroke="#000" stroke-width="1.0"/>
<text x="197.00" y="631.00" font-size="12" text-anchor="middle" font-weight="normal" >**</text>
<line x1="205.20" y1="611.70" x2="225.00" y2="611.70" stroke="#000" stroke-width="1.0"/>
<text x="215.60" y="613.20" font-size="12" text-anchor="middle" font-weight="normal" >***</text>
<text x="0" y="0" transform="translate(189.10,704.80) rotate(-45)" font-size="10.5" text-anchor="end" font-weight="normal" textLength="27.70" lengthAdjust="spacingAndGlyphs" >no SN</text>
<text x="0" y="0" transform="translate(207.10,704.80) rotate(-45)" font-size="10.5" text-anchor="end" font-weight="normal" textLength="32.00" lengthAdjust="spacingAndGlyphs" >WT SN</text>
<text x="0" y="0" transform="translate(225.70,705.80) rotate(-45)" font-size="10.5" text-anchor="end" font-weight="normal" textLength="45.80" lengthAdjust="spacingAndGlyphs" >Mpo-/- SN</text>
<text x="0" y="0" transform="translate(245.20,705.80) rotate(-45)" font-size="10.5" text-anchor="end" font-weight="normal" textLength="64.20" lengthAdjust="spacingAndGlyphs" >uncoated DCs</text>
</svg>
</body></html>
